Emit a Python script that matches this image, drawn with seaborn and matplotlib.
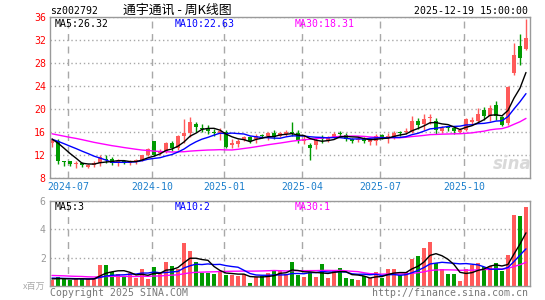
import numpy as np
import pandas as pd
import matplotlib
matplotlib.use("Agg")
import matplotlib.pyplot as plt
import seaborn as sns

# ---------------- data (weekly K line, 002792) ----------------
open_ = [14.0, 14.4, 10.8, 10.8, 10.4, 10.5, 9.9, 10.2, 10.5, 11.3,
         11.2, 10.6, 10.9, 10.5, 10.7, 11.1, 12.0, 14.3, 12.2, 12.6,
         14.0, 13.1, 15.3, 15.7, 17.3, 16.7, 16.5, 16.0, 15.7, 15.9,
         13.6, 13.8, 14.6, 15.0, 14.7, 15.4, 15.3, 15.7, 15.2, 15.6,
         16.0, 15.8, 14.4, 13.7, 13.7, 14.9, 14.6, 15.0, 15.8, 15.4,
         14.65, 14.55, 14.65, 14.25, 14.45, 15.45, 15.05, 15.05, 15.95, 15.95,
         15.95, 17.85, 17.25, 18.35, 17.85, 16.15, 16.75, 16.55, 15.95, 16.35,
         17.7, 17.9, 19.7, 18.7, 20.7, 18.6, 17.5, 26.3, 31.0, 30.5]
close = [14.5, 10.9, 10.7, 10.3, 10.5, 10.1, 10.2, 10.6, 11.5, 11.1,
         10.6, 10.9, 10.6, 10.7, 11.1, 11.9, 12.9, 12.0, 12.7, 14.1,
         13.2, 15.3, 15.7, 17.7, 16.8, 16.5, 16.1, 15.8, 16.1, 13.4,
         14.1, 14.4, 15.0, 14.4, 15.3, 15.2, 15.7, 15.1, 15.8, 15.9,
         15.8, 14.4, 14.7, 13.2, 14.5, 14.8, 15.0, 15.6, 15.6, 14.8,
         14.45, 14.75, 14.35, 14.55, 15.25, 15.05, 15.15, 15.85, 15.75, 16.15,
         17.85, 17.15, 18.15, 18.45, 16.35, 16.65, 16.55, 16.05, 16.25, 18.25,
         18.1, 19.1, 18.7, 20.1, 18.7, 17.2, 23.8, 29.4, 28.8, 32.4]
high = [14.9, 14.7, 10.8, 10.9, 10.8, 10.7, 10.4, 10.9, 11.9, 11.9,
        11.5, 11.2, 11.0, 11.0, 11.3, 12.0, 13.2, 14.3, 12.9, 14.2,
        14.4, 15.5, 18.2, 18.5, 17.6, 17.4, 17.2, 16.4, 16.6, 16.3,
        14.7, 14.8, 15.3, 15.3, 15.6, 15.6, 16.0, 16.3, 16.0, 16.2,
        17.6, 16.3, 15.3, 14.1, 14.9, 15.5, 15.3, 15.9, 16.1, 15.7,
        14.85, 15.15, 15.05, 14.95, 15.55, 15.65, 15.75, 16.15, 16.05, 16.55,
        18.65, 18.35, 19.05, 19.15, 18.35, 16.95, 17.05, 16.85, 16.65, 18.4,
        18.5, 20.1, 20.3, 20.6, 21.4, 18.8, 23.9, 31.5, 33.0, 35.6]
low = [13.4, 10.4, 10.0, 10.0, 9.6, 9.9, 9.6, 9.9, 10.0, 10.5,
       10.1, 10.0, 10.3, 10.2, 10.4, 10.8, 11.8, 11.8, 11.9, 12.2,
       12.6, 12.8, 14.0, 15.0, 16.0, 15.9, 15.6, 15.3, 14.6, 13.2,
       13.2, 13.4, 14.3, 14.1, 14.1, 14.9, 14.6, 14.8, 15.0, 15.3,
       15.2, 14.1, 13.9, 11.1, 13.0, 14.1, 14.2, 14.8, 15.0, 14.4,
       14.05, 14.15, 13.95, 13.65, 13.65, 14.75, 13.95, 14.75, 15.25, 15.55,
       15.75, 16.45, 16.25, 17.35, 15.55, 15.75, 16.05, 15.55, 15.75, 16.05,
       17.3, 17.6, 18.0, 17.9, 18.1, 16.9, 17.2, 25.8, 27.6, 30.3]
volume = [0.42, 0.61, 0.52, 0.45, 0.49, 0.49, 0.49, 0.58, 1.48, 1.48,
          0.97, 0.85, 0.62, 0.90, 0.58, 1.20, 0.48, 1.33, 0.90, 1.68,
          1.40, 1.22, 3.03, 2.46, 1.69, 0.94, 0.94, 0.86, 1.05, 0.78,
          0.78, 0.73, 0.85, 0.20, 0.65, 0.74, 0.92, 1.11, 1.05, 0.85,
          1.70, 0.77, 0.65, 1.00, 0.65, 1.54, 0.58, 1.05, 1.29, 0.58,
          0.51, 0.44, 0.70, 0.58, 1.00, 0.60, 1.19, 1.19, 0.77, 0.98,
          1.92, 2.10, 2.69, 3.11, 1.59, 1.19, 0.84, 0.84, 0.37, 1.19,
          1.47, 1.64, 1.31, 1.40, 1.64, 1.08, 2.18, 4.98, 4.91, 5.61]
# weeks before the window (only feed the moving averages)
pre_close = [17.2, 16.9, 16.5, 16.0, 16.6, 17.2, 17.6, 17.4, 16.9, 16.4,
             15.5, 15.8, 15.2, 15.6, 16.0, 15.4, 15.0, 14.8, 15.2,
             14.9, 14.5, 14.8, 14.6, 14.7, 14.6, 14.4, 15.1, 14.9, 14.6]
pre_volume = [1.0, 0.9, 1.1, 0.9, 0.8, 1.2, 1.0, 0.9, 0.8, 0.9,
              0.8, 0.7, 0.9, 0.8, 0.7, 0.6, 0.7, 0.8, 0.6,
              0.6, 0.7, 0.65, 0.55, 0.6, 0.6, 0.5, 0.55, 0.5, 0.53]
# week-ending trading days that differ from Friday (holidays)
holiday_last_day = {"2024-10-04": "2024-09-30", "2025-01-31": "2025-01-27",
                    "2025-04-04": "2025-04-03", "2025-05-02": "2025-04-30",
                    "2025-10-03": "2025-09-30"}
first_week = "2024-06-14"
title_code = "sz002792"
title_name = "通宇通讯 - 周K线图"
stamp = "2025-12-19 15:00:00"
price_ma_labels = ["MA5:26.32", "MA10:22.63", "MA30:18.31"]
vol_ma_labels = ["MA5:3", "MA10:2", "MA30:1"]
price_ticks = [8, 12, 16, 20, 24, 28, 32, 36]
vol_ticks = [2, 4, 6]
label_months = [1, 4, 7, 10]

# ---------------- derived ----------------
n = len(close)
fridays = pd.date_range(first_week, periods=n, freq="W-FRI").strftime("%Y-%m-%d")
dates = pd.to_datetime([holiday_last_day.get(d, d) for d in fridays])
df = pd.DataFrame({"x": np.arange(n), "open": open_, "close": close,
                   "high": high, "low": low, "vol": volume, "date": dates})
cs = pd.Series(pre_close + close)
vs = pd.Series(pre_volume + volume)
k = len(pre_close)
for w in (5, 10, 30):
    df[f"ma{w}"] = cs.rolling(w, min_periods=1).mean().values[k:]
    df[f"vma{w}"] = vs.rolling(w, min_periods=1).mean().values[k:]

ym = df["date"].dt.to_period("M")
tick_idx = [i for i in range(1, n) if ym[i] != ym[i - 1] and df["date"][i].month in label_months]
tick_lab = [df["date"][i].strftime("%Y-%m") for i in tick_idx]

# ---------------- style ----------------
RED = "#FF5A5A"
GREEN = "#009A00"
GRID = "#A8A8A8"
FRAME = "#9A9A9A"
MA_COLORS = ["black", "#0000FF", "#FF00FF"]
sns.set_theme(style="white")
plt.rcParams["font.family"] = ["DejaVu Sans Mono", "Noto Sans CJK SC", "DejaVu Sans"]
FS = 7.1

W, H = 545, 300
fig = plt.figure(figsize=(W / 100, H / 100), dpi=100, facecolor="white")
fx = lambda px: px / W
fy = lambda py: 1 - py / H

L, R = 50, 530
ax = fig.add_axes([fx(L), fy(177.5), fx(R) - fx(L), (177.5 - 17) / H])
axv = fig.add_axes([fx(L), fy(286), fx(R) - fx(L), (286 - 201) / H])

up = df["close"] >= df["open"]
cols = np.where(up, RED, GREEN)
body_lo = np.minimum(df["open"], df["close"])
body_h = np.maximum(np.abs(df["close"] - df["open"]), 0.16)

ax.vlines(df["x"], df["low"], df["high"], colors=cols, lw=1.0, zorder=3)
ax.bar(df["x"], body_h, bottom=body_lo, width=0.8, color=cols, linewidth=0,
       zorder=4, antialiased=False)
for col, c in (("ma30", MA_COLORS[2]), ("ma10", MA_COLORS[1]), ("ma5", MA_COLORS[0])):
    sns.lineplot(data=df, x="x", y=col, ax=ax, color=c, lw=1.0, zorder=5)

axv.bar(df["x"], df["vol"], width=0.8, color=cols, linewidth=0, zorder=3,
        antialiased=False)
for col, c in (("vma30", MA_COLORS[2]), ("vma10", MA_COLORS[1]), ("vma5", MA_COLORS[0])):
    sns.lineplot(data=df, x="x", y=col, ax=axv, color=c, lw=1.0, zorder=5)

xoff = -0.33
for a in (ax, axv):
    a.set_xlim(-0.33, n - 0.33)
    a.set_xticks(np.array(tick_idx) + xoff)
    a.set_xlabel("")
    a.set_ylabel("")
    a.set_facecolor("white")
    a.set_axisbelow(True)
    a.xaxis.grid(True, color=GRID, lw=1.0, linestyle=(0, (5, 4)))
    a.yaxis.grid(True, color=GRID, lw=1.0, linestyle=(0, (1, 2)))
    for s in a.spines.values():
        s.set_color(FRAME)
        s.set_linewidth(1.0)
        s.set_zorder(6)
    a.tick_params(length=0)

ax.set_ylim(8, 36)
ax.set_yticks(price_ticks)
ax.set_yticklabels([str(t) for t in price_ticks])
ax.tick_params(axis="y", labelcolor="red", labelsize=FS, pad=3)
ax.set_xticklabels(tick_lab)
ax.tick_params(axis="x", labelcolor="#1C7FCC", labelsize=FS, pad=3.5)

axv.set_ylim(0, 6)
axv.set_yticks(vol_ticks)
axv.set_yticklabels([str(t) for t in vol_ticks])
axv.tick_params(axis="y", labelcolor="#999999", labelsize=FS, pad=3)
axv.set_xticklabels([])

# ---------------- texts ----------------
def T(x, y, s, **kw):
    kw.setdefault("fontsize", FS)
    kw.setdefault("va", "center")
    fig.text(fx(x), fy(y), s, **kw)

T(50, 11, title_code, color="black")
T(177, 10, title_name, color="black", ha="center", fontsize=9.3,
  family=["Noto Sans CJK SC", "DejaVu Sans"])
T(528, 11.5, stamp, color="black", ha="right")
for xp, s, c in zip((55, 175, 295), price_ma_labels, MA_COLORS):
    T(xp, 24, s, color=c)
for xp, s, c in zip((55, 175, 295), vol_ma_labels, MA_COLORS):
    T(xp, 206.5, s, color=c)
T(50, 292.5, "Copyright 2025 SINA.COM", color="#777777")
T(528, 292.5, "http://finance.sina.com.cn", color="#777777", ha="right")
T(45, 286, "x百万", color="#AAAAAA", ha="right", fontsize=6.5,
  family=["Noto Sans CJK SC", "DejaVu Sans"])
T(512, 164, "sina", color="#D9D9D9", ha="center", fontsize=12,
  style="italic", weight="bold", family=["DejaVu Sans"])

fig.savefig("out.png", dpi=100, facecolor="white")
